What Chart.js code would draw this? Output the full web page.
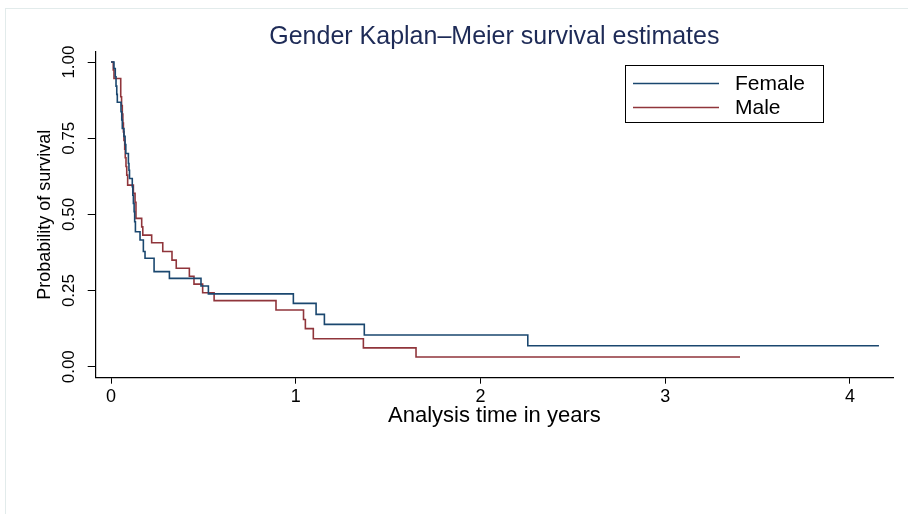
<!DOCTYPE html>
<html>
<head>
<meta charset="utf-8">
<title>Gender Kaplan–Meier survival estimates</title>
<script src="https://cdn.jsdelivr.net/npm/chart.js@4.4.1/dist/chart.umd.min.js"></script>
<style>
  html, body { margin: 0; padding: 0; background: #fff; }
  #wrap { position: relative; width: 908px; height: 514px; overflow: hidden; }
  #frame { position: absolute; left: 5px; top: 8px; width: 910px; height: 520px; border: 1px solid #e2ebeb; }
  #km { position: absolute; left: 0; top: 0; }
</style>
</head>
<body>
<div id="wrap">
  <div id="frame"></div>
  <canvas id="km" width="908" height="514"></canvas>
</div>
<script>
// KM steps: time in years, survival after each drop
var femaleTime = [0, 0.016, 0.023, 0.027, 0.031, 0.034, 0.054, 0.058, 0.061, 0.070, 0.076, 0.080, 0.094, 0.097, 0.100, 0.115, 0.118, 0.121, 0.125, 0.128, 0.132, 0.157, 0.175, 0.184, 0.233, 0.316, 0.487, 0.527, 0.987, 1.110, 1.155, 1.371, 2.256, 4.157];
var femaleSurv = [1, 0.979, 0.952, 0.921, 0.894, 0.868, 0.837, 0.810, 0.782, 0.756, 0.729, 0.700, 0.667, 0.645, 0.618, 0.591, 0.563, 0.536, 0.509, 0.476, 0.443, 0.416, 0.378, 0.356, 0.312, 0.290, 0.265, 0.239, 0.208, 0.172, 0.139, 0.104, 0.069, 0.069];

var maleTime = [0, 0.012, 0.016, 0.0525, 0.057, 0.061, 0.064, 0.067, 0.070, 0.074, 0.077, 0.081, 0.085, 0.090, 0.121, 0.130, 0.135, 0.166, 0.172, 0.220, 0.280, 0.330, 0.353, 0.424, 0.449, 0.496, 0.558, 0.893, 1.042, 1.052, 1.095, 1.366, 1.651, 3.405];
var maleSurv = [1, 0.974, 0.946, 0.886, 0.857, 0.829, 0.800, 0.771, 0.743, 0.714, 0.686, 0.657, 0.629, 0.596, 0.569, 0.540, 0.487, 0.459, 0.432, 0.407, 0.378, 0.350, 0.323, 0.297, 0.271, 0.243, 0.217, 0.186, 0.155, 0.125, 0.092, 0.062, 0.032, 0.032];

var xTicks = [0, 1, 2, 3, 4];
var yTicks = [0, 0.25, 0.5, 0.75, 1];
var groups = ['Female', 'Male'];

var FONT = "'Liberation Sans', Arial, sans-serif";
Chart.defaults.font.family = FONT;
Chart.defaults.color = '#000';

function pts(t, s) {
    return t.map(function (v, i) { return { x: v, y: s[i] }; });
}

// y tick labels are rotated like stata does it, centred on the tick
var yLabels = {
    id: 'yLabels',
    afterDraw: function (chart) {
        var ctx = chart.ctx, sc = chart.scales.y;
        ctx.save();
        ctx.font = '17px ' + FONT;
        ctx.fillStyle = '#000';
        ctx.textAlign = 'center';
        ctx.textBaseline = 'middle';
        yTicks.forEach(function (v) {
            ctx.save();
            ctx.translate(sc.right - 26, sc.getPixelForValue(v));
            ctx.rotate(-Math.PI / 2);
            ctx.fillText(v.toFixed(2), 0, 0);
            ctx.restore();
        });
        ctx.restore();
    }
};

// boxed legend in the upper right
var boxLegend = {
    id: 'boxLegend',
    afterDraw: function (chart) {
        var ctx = chart.ctx;
        var L = 625, T = 65, W = 198, H = 57;
        ctx.save();
        ctx.strokeStyle = '#000';
        ctx.lineWidth = 1;
        ctx.strokeRect(L + 0.5, T + 0.5, W, H);
        ctx.font = '21px ' + FONT;
        ctx.textBaseline = 'middle';
        ctx.textAlign = 'left';
        chart.data.datasets.forEach(function (ds, i) {
            var y = T + 18.5 + i * 24;
            ctx.strokeStyle = ds.borderColor;
            ctx.lineWidth = 1.5;
            ctx.beginPath();
            ctx.moveTo(L + 8, y);
            ctx.lineTo(L + 94, y);
            ctx.stroke();
            ctx.fillStyle = '#000';
            ctx.fillText(ds.label, L + 110, y + 1);
        });
        ctx.restore();
    }
};

new Chart(document.getElementById('km'), {
    type: 'line',
    data: {
        datasets: [{
            label: groups[0],
            data: pts(femaleTime, femaleSurv),
            borderColor: '#1a476f',
            borderWidth: 1.6,
            stepped: true,
            pointRadius: 0,
            fill: false
        }, {
            label: groups[1],
            data: pts(maleTime, maleSurv),
            borderColor: '#90353b',
            borderWidth: 1.6,
            stepped: true,
            pointRadius: 0,
            fill: false
        }]
    },
    options: {
        responsive: false,
        devicePixelRatio: 1,
        animation: false,
        layout: { padding: { left: 0, right: 15, top: 0, bottom: 0 } },
        plugins: {
            legend: { display: false },
            tooltip: { enabled: false },
            title: {
                display: true,
                fullSize: false,
                text: 'Gender Kaplan–Meier survival estimates',
                color: '#1e2b57',
                font: { size: 25, weight: 'normal' },
                padding: { top: 21.7, bottom: 0 }
            }
        },
        scales: {
            x: {
                type: 'linear',
                min: -0.083,
                max: 4.233,
                afterBuildTicks: function (s) { s.ticks = xTicks.map(function (v) { return { value: v }; }); },
                afterFit: function (s) { s.height = 136.3; s.paddingLeft = 0; s.paddingRight = 0; },
                ticks: { font: { size: 18 }, padding: 3, maxRotation: 0, autoSkip: false, callback: function (v) { return String(v); } },
                grid: { display: true, drawOnChartArea: false, drawTicks: true, tickLength: 6, color: '#000', lineWidth: 1 },
                border: { display: true, color: '#000', width: 1.2 },
                title: { display: true, text: 'Analysis time in years', font: { size: 22 }, padding: { top: 0, bottom: 84.8 } }
            },
            y: {
                type: 'linear',
                min: -0.036,
                max: 1.034,
                afterBuildTicks: function (s) { s.ticks = yTicks.map(function (v) { return { value: v }; }); },
                afterFit: function (s) { s.width = 95.7; s.paddingTop = 0; s.paddingBottom = 0; },
                ticks: { display: false },
                grid: { display: true, drawOnChartArea: false, drawTicks: true, tickLength: 8, color: '#000', lineWidth: 1 },
                border: { display: true, color: '#000', width: 1.2 },
                title: { display: true, text: 'Probability of survival', font: { size: 18 }, padding: { top: 34, bottom: 0 } }
            }
        }
    },
    plugins: [yLabels, boxLegend]
});
</script>
</body>
</html>
